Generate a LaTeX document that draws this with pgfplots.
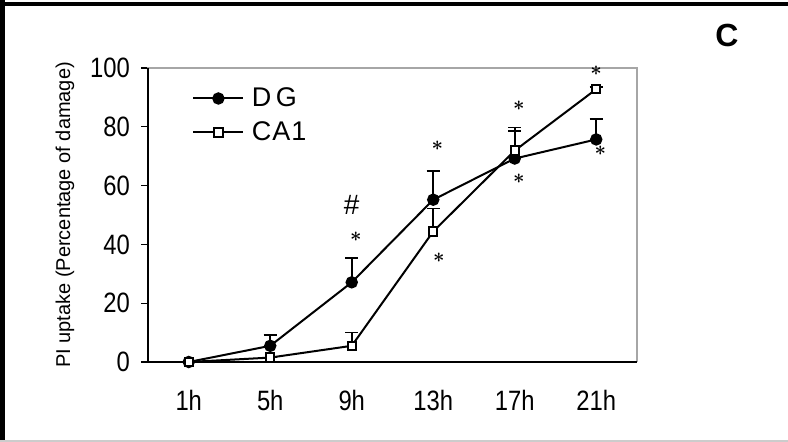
\documentclass[border=0pt]{standalone}
\usepackage{fontspec}
\setmainfont{Liberation Sans}
\newfontfamily\cond[FakeStretch=0.85]{Liberation Sans}
\usepackage{pgfplots}
\pgfplotsset{compat=1.18}
\begin{document}
\begin{tikzpicture}[x=1pt,y=1pt]
\path[use as bounding box] (0,0) rectangle (394,221);
\fill[white] (0,0) rectangle (394,221);
\draw[black, line width=2pt] (0,218.75) -- (394,218.75);
\draw[black, line width=2.5pt] (1.25,0) -- (1.25,221);
\draw[gray!40, line width=1pt] (0,0.5) -- (394,0.5);
\node[font=\fontsize{16}{16}\selectfont\bfseries] at (363.5,203.5) {C};
\begin{axis}[
  at={(74pt,40pt)}, anchor=south west,
  scale only axis, width=244.5pt, height=147pt,
  xmin=-0.5, xmax=5.5, ymin=0, ymax=100,
  xtick={0,1,2,3,4,5},
  xticklabels={1h,5h,9h,13h,17h,21h},
  extra x ticks={-0.5,0.5,1.5,2.5,3.5,4.5,5.5},
  extra x tick labels={},
  extra x tick style={major tick length=4pt, tick style={black, line width=0.6pt}},
  ytick={0,20,40,60,80,100},
  tick align=outside, tickwidth=3.5pt,
  x tick style={draw=none},
  y tick style={black, line width=0.6pt},
  xtick pos=bottom, ytick pos=left,
  /pgf/number format/assume math mode=true,
  tick label style={font=\cond\fontsize{14}{14}\selectfont},
  xticklabel style={yshift=-7pt},
  yticklabel style={xshift=-2pt},
  axis line style={draw=none},
  ylabel={PI uptake (Percentage of damage)},
  ylabel style={font=\cond\fontsize{12.5}{12.5}\selectfont},
  every axis y label/.style={at={(axis description cs:-0.17,0.5)}, rotate=90, anchor=center},
  clip=false,
  legend style={draw=none, fill=none, at={(axis description cs:0.09,0.945)}, anchor=north west,
    font=\fontsize{13.5}{13.5}\selectfont, row sep=3pt, inner sep=0pt,
    nodes={inner sep=1.5pt}},
  legend cell align=left,
  legend image code/.code={\draw[mark repeat=2,mark phase=2,#1] plot coordinates {(0pt,0pt) (12.5pt,0pt) (25pt,0pt)};},
]
% plot area frame
\draw[gray!70, line width=0.6pt] (axis cs:-0.5,0) -- (axis cs:-0.5,100) -- (axis cs:5.5,100) -- (axis cs:5.5,0);
\draw[black, line width=0.8pt] (axis cs:-0.5,100) -- (axis cs:-0.5,0) -- (axis cs:5.5,0);
\addplot[black, line width=1pt, mark=*, mark size=2.6pt, mark options={fill=black},
  error bars/.cd, y dir=plus, y explicit,
  error bar style={line width=0.8pt},
  error mark options={rotate=90, mark size=3.3pt, line width=0.8pt}]
  table[x=x, y=y, y error=e] {
x y e
0 0 0
1 5.5 3.6
2 27.1 8.2
3 55.2 9.7
4 69.2 9.4
5 75.7 7.0
};
\addlegendentry{\,D\,G}
\addplot[black, line width=1pt, mark=square*, mark size=2.1pt, mark options={fill=white},
  error bars/.cd, y dir=plus, y explicit,
  error bar style={line width=0.8pt},
  error mark options={rotate=90, mark size=3.3pt, line width=0.8pt}]
  table[x=x, y=y, y error=e] {
x y e
0 0 0
1 1.5 0
2 5.5 4.5
3 44.4 7.8
4 71.9 7.8
5 92.8 0.8
};
\addlegendentry{\,C\kern0.5pt A\kern0.5pt 1}
\node[inner sep=0pt, font=\fontsize{14}{14}\selectfont] at (axis cs:2.0,53.5) {\#};
\node[inner sep=0pt,font=\normalsize\boldmath] at (axis cs:2.05,42.7) {$\ast$};
\node[inner sep=0pt,font=\normalsize\boldmath] at (axis cs:3.05,73.6) {$\ast$};
\node[inner sep=0pt,font=\normalsize\boldmath] at (axis cs:3.07,35.3) {$\ast$};
\node[inner sep=0pt,font=\normalsize\boldmath] at (axis cs:4.05,87.1) {$\ast$};
\node[inner sep=0pt,font=\normalsize\boldmath] at (axis cs:4.05,62.4) {$\ast$};
\node[inner sep=0pt,font=\normalsize\boldmath] at (axis cs:5.0,99.1) {$\ast$};
\node[inner sep=0pt,font=\normalsize\boldmath] at (axis cs:5.05,71.9) {$\ast$};
\end{axis}
\end{tikzpicture}
\end{document}
